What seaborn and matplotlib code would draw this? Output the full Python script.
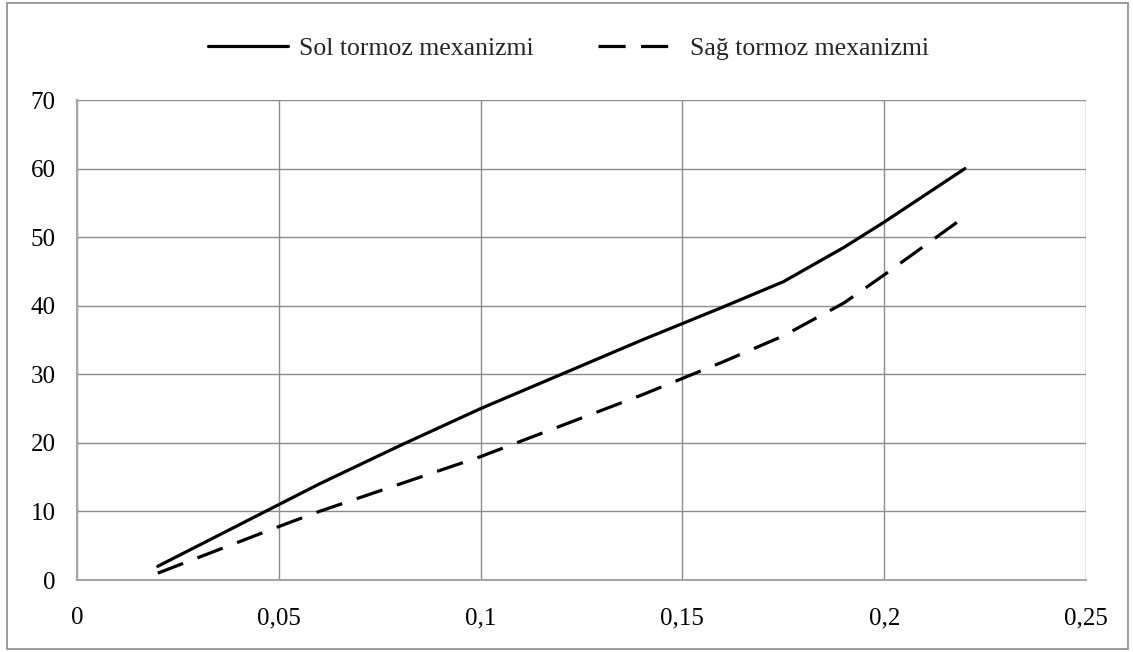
import pandas as pd
import matplotlib.pyplot as plt
import seaborn as sns
from matplotlib.patches import Rectangle

# values
x_vals = [0.02, 0.05, 0.06, 0.08, 0.1, 0.12, 0.14, 0.16, 0.175, 0.19, 0.2, 0.22]
sol_vals = [2, 11, 14, 19.6, 25, 30, 35, 39.8, 43.5, 48.5, 52.2, 60]
sag_vals = [1, 7.8, 10, 14, 18, 22.5, 27, 31.8, 35.6, 40.4, 44.5, 53]
x_ticks = [0, 0.05, 0.1, 0.15, 0.2, 0.25]
x_labels = ["0", "0,05", "0,1", "0,15", "0,2", "0,25"]
y_ticks = [0, 10, 20, 30, 40, 50, 60, 70]

sns.set_style("white")
plt.rcParams['font.family'] = ['Liberation Serif', 'DejaVu Serif']

df_sol = pd.DataFrame({"x": x_vals, "y": sol_vals})
df_sag = pd.DataFrame({"x": x_vals, "y": sag_vals})

fig = plt.figure(figsize=(11.33, 6.52), dpi=100)
ax = fig.add_axes([0.068, 0.1104, 0.8905, 0.7362])

sns.lineplot(data=df_sol, x="x", y="y", ax=ax, color="black", linewidth=2.3,
             label="Sol tormoz mexanizmi")
sns.lineplot(data=df_sag, x="x", y="y", ax=ax, color="black", linewidth=2.3,
             label="Sağ tormoz mexanizmi")
ax.lines[1].set_dashes((8.5, 4.8))

ax.set_xlim(0, 0.25)
ax.set_ylim(0, 70)
ax.set_xticks(x_ticks)
ax.set_xticklabels(x_labels)
ax.set_yticks(y_ticks)
ax.set_xlabel("")
ax.set_ylabel("")

grid_color = "#8c8c8c"
ax.grid(True, color=grid_color, linewidth=1)
for side in ["top", "right"]:
    ax.spines[side].set_visible(False)
for side in ["left", "bottom"]:
    ax.spines[side].set_color("#a6a6a6")
    ax.spines[side].set_linewidth(1.5)
ax.tick_params(axis="both", which="both", direction="out", length=6.5, width=1,
               color=grid_color, labelsize=18, labelcolor="black")
ax.tick_params(axis="x", pad=13)
ax.tick_params(axis="y", pad=9)

leg = ax.legend(loc="center", bbox_to_anchor=(0.487, 1.108), ncol=2, frameon=False,
                fontsize=18.5, handlelength=3.1, columnspacing=2.5, handletextpad=0.45)

# outer chart border
fig.patches.append(Rectangle((0.006, 0.004), 0.99, 0.992, transform=fig.transFigure,
                             fill=False, edgecolor="#8c8c8c", linewidth=1.2))

plt.savefig("out.png", dpi=100)
plt.close()
